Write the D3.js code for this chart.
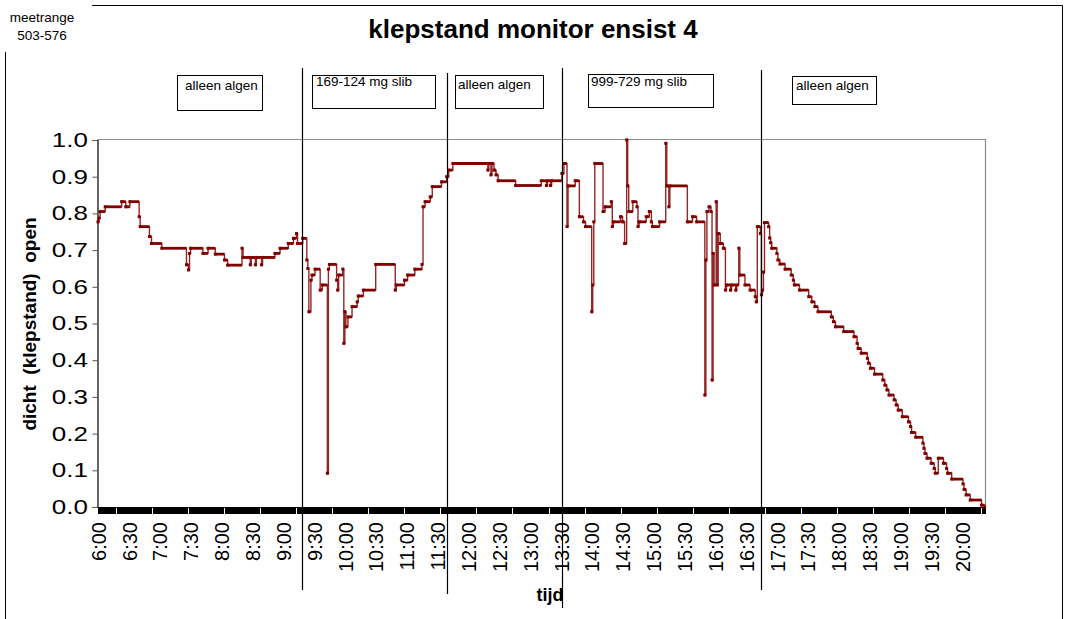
<!DOCTYPE html>
<html>
<head>
<meta charset="utf-8">
<script src="https://cdn.jsdelivr.net/npm/d3@7"></script>
<style>
  html, body { margin: 0; padding: 0; background: #fff; }
  svg { display: block; font-family: "Liberation Sans", Arial, sans-serif; }
</style>
</head>
<body>
<svg id="chart" width="1067" height="619"></svg>
<script>
// ---------------- data ----------------
const chartTitle = "klepstand monitor ensist 4";
const rangeLabel = ["meetrange", "503-576"];
const yAxisTitle = "dicht  (klepstand)  open";
const xAxisTitle = "tijd";
const yTicks = [0, 0.1, 0.2, 0.3, 0.4, 0.5, 0.6, 0.7, 0.8, 0.9, 1.0];
const xLabelTimes = ["6:00","6:30","7:00","7:30","8:00","8:30","9:00","9:30","10:00","10:30",
  "11:00","11:30","12:00","12:30","13:00","13:30","14:00","14:30","15:00","15:30","16:00",
  "16:30","17:00","17:30","18:00","18:30","19:00","19:30","20:00"];
const startTime = "6:00";
const endTime = "20:22";
const phaseBoundaries = ["9:18", "11:39", "13:31", "16:45"];
const phaseLabels = ["alleen algen", "169-124 mg slib", "alleen algen", "999-729 mg slib", "alleen algen"];

// valve position (step changes): time of change and new value
const klepTimes = ["6:00","6:01","6:02","6:07","6:23","6:27","6:31","6:40","6:41","6:50","6:52","7:02",
  "7:26","7:28","7:29","7:30","7:42","7:47","7:54","8:03","8:06","8:20","8:21","8:28","8:29","8:33",
  "8:34","8:39","8:40","8:52","8:57","9:05","9:10","9:13","9:14","9:19","9:23","9:24","9:25","9:27",
  "9:28","9:31","9:36","9:38","9:43","9:44","9:45","9:52","9:53","9:54","9:58","9:59","10:00","10:01",
  "10:03","10:07","10:12","10:13","10:18","10:30","10:49","10:50","10:58","11:01","11:08","11:15",
  "11:16","11:18","11:23","11:25","11:34","11:39","11:41","11:45","12:19","12:20","12:22","12:23",
  "12:25","12:27","12:29","12:46","13:11","13:16","13:17","13:20","13:21","13:31","13:33","13:36",
  "13:37","13:44","13:48","13:52","13:54","14:00","14:01","14:02","14:03","14:11","14:13","14:19",
  "14:20","14:21","14:28","14:30","14:32","14:34","14:35","14:36","14:40","14:44","14:45","14:46",
  "14:53","14:56","14:58","14:59","15:06","15:12","15:13","15:15","15:16","15:33","15:38","15:42",
  "15:50","15:51","15:52","15:54","15:56","15:57","15:58","15:59","16:01","16:02","16:03","16:05",
  "16:08","16:10","16:11","16:15","16:16","16:20","16:21","16:23","16:24","16:29","16:34","16:39",
  "16:40","16:41","16:44","16:45","16:46","16:47","16:48","16:52","16:53","16:54","16:55","17:00",
  "17:01","17:03","17:08","17:14","17:16","17:17","17:22","17:31","17:34","17:37","17:40","17:53",
  "17:55","17:57","18:05","18:15","18:18","18:19","18:22","18:28","18:29","18:31","18:35","18:43",
  "18:45","18:47","18:49","18:54","18:56","18:58","19:02","19:08","19:10","19:11","19:15","19:22",
  "19:23","19:24","19:26","19:30","19:33","19:34","19:37","19:42","19:45","19:46","19:50","20:01",
  "20:02","20:04","20:08","20:19","20:22"];
const klepValues = [0.777,0.787,0.805,0.818,0.832,0.818,0.832,0.791,0.764,0.737,0.718,0.705,
  0.660,0.646,0.691,0.705,0.691,0.705,0.689,0.673,0.659,0.705,0.680,0.660,0.680,0.660,
  0.680,0.660,0.680,0.691,0.705,0.718,0.732,0.745,0.718,0.732,0.673,0.650,0.532,0.618,
  0.632,0.648,0.591,0.605,0.092,0.648,0.661,0.618,0.591,0.632,0.648,0.446,0.532,0.491,
  0.518,0.546,0.559,0.575,0.591,0.661,0.591,0.605,0.618,0.632,0.648,0.661,
  0.818,0.832,0.845,0.873,0.886,0.900,0.918,0.936,0.918,0.936,0.905,0.936,
  0.918,0.905,0.889,0.876,0.889,0.876,0.889,0.876,0.889,0.909,0.936,0.764,
  0.875,0.889,0.791,0.777,0.764,0.532,0.605,0.777,0.936,0.805,0.818,0.832,
  0.764,0.777,0.791,0.777,0.718,1.000,0.875,0.805,0.832,0.818,0.764,0.777,
  0.791,0.805,0.777,0.764,0.777,0.991,0.875,0.818,0.875,0.777,0.791,0.777,
  0.305,0.673,0.805,0.818,0.805,0.346,0.691,0.605,0.832,0.605,0.745,0.718,
  0.705,0.591,0.605,0.591,0.605,0.591,0.605,0.705,0.632,0.605,0.591,0.573,
  0.559,0.764,0.745,0.578,0.591,0.640,0.775,0.764,0.733,0.720,0.705,0.691,
  0.673,0.662,0.648,0.632,0.618,0.605,0.591,0.573,0.559,0.546,0.532,0.518,
  0.505,0.491,0.478,0.464,0.446,0.432,0.419,0.405,0.392,0.378,0.362,0.346,
  0.332,0.319,0.305,0.292,0.278,0.264,0.246,0.232,0.219,0.203,0.190,0.174,
  0.160,0.146,0.133,0.119,0.105,0.092,0.133,0.119,0.105,0.092,0.076,0.063,
  0.048,0.033,0.019,0.005,0.000];

// ---------------- helpers & layout ----------------
const toMin = s => { const [h, m] = s.split(":").map(Number); return h * 60 + m; };
const t0 = toMin(startTime), t1 = toMin(endTime);
const data = klepTimes.map((t, i) => ({ t: toMin(t) - t0, v: klepValues[i] }));

const svg = d3.select("#chart");
const FONT = '"Liberation Sans", Arial, sans-serif';
const red = "#800000";

const plot = { left: 97.5, right: 985, top: 140, bottom: 507 };
const x = d3.scaleLinear().domain([0, t1 - t0]).range([98, 984.6]);
const y = d3.scaleLinear().domain([0, 1]).range([plot.bottom, plot.top]);

// outer chart border (partly hidden by the range label box)
svg.append("path")
  .attr("d", "M5.5,619 L5.5,5.5 L1062.5,5.5 L1062.5,619")
  .attr("fill", "none").attr("stroke", "#000").attr("stroke-width", 1);
svg.append("rect").attr("x", 0).attr("y", 0).attr("width", 92).attr("height", 52).attr("fill", "#fff");
svg.append("text").attr("x", 42).attr("y", 22).attr("text-anchor", "middle")
  .attr("font-size", 13.5).attr("font-family", FONT).text(rangeLabel[0]);
svg.append("text").attr("x", 42).attr("y", 40).attr("text-anchor", "middle")
  .attr("font-size", 13.5).attr("font-family", FONT).text(rangeLabel[1]);

// title
svg.append("text").attr("x", 533).attr("y", 38).attr("text-anchor", "middle")
  .attr("font-size", 26).attr("font-weight", "bold").attr("font-family", FONT).text(chartTitle);

// plot frame (top & right grey)
svg.append("path")
  .attr("d", `M${plot.left},${plot.top - 0.5} L${plot.right + 0.5},${plot.top - 0.5} L${plot.right + 0.5},${plot.bottom}`)
  .attr("fill", "none").attr("stroke", "#8c8c8c").attr("stroke-width", 1.2);

// y axis
const ySX = 1.3;
const yAxis = svg.append("g").attr("transform", `translate(${plot.left},0)`)
  .call(d3.axisLeft(y).tickValues(yTicks).tickSize(5).tickPadding(5).tickFormat(d3.format(".1f")));
yAxis.select(".domain").attr("stroke", "#000").attr("stroke-width", 1.2);
yAxis.selectAll(".tick line").attr("stroke", "#555");
yAxis.selectAll("text").attr("font-size", 20).attr("font-family", FONT).attr("fill", "#000")
  .attr("x", -9.5 / ySX).attr("transform", `scale(${ySX},1)`);

// x axis: dense minute tick marks
const minuteTicks = d3.range(0, t1 - t0 + 1, 1);
const xAxis = svg.append("g").attr("transform", `translate(0,${plot.bottom})`)
  .call(d3.axisBottom(x).tickValues(minuteTicks).tickSize(7).tickSizeOuter(0).tickFormat(""));
xAxis.select(".domain").attr("stroke", "#000").attr("stroke-width", 1.2);
xAxis.selectAll(".tick line").attr("stroke", "#000").attr("stroke-width", 1)
  .attr("shape-rendering", "crispEdges");

// x labels (rotated)
const labelAxis = svg.append("g").attr("transform", `translate(0,${plot.bottom})`)
  .call(d3.axisBottom(x).tickValues(xLabelTimes.map(s => toMin(s) - t0)).tickSize(0)
    .tickFormat((d, i) => xLabelTimes[i]));
labelAxis.select(".domain").remove();
labelAxis.selectAll("text")
  .attr("font-size", 20).attr("font-family", FONT).attr("fill", "#000")
  .attr("text-anchor", "end")
  .attr("transform", "translate(0,15) rotate(-90)")
  .attr("x", 0).attr("y", 0).attr("dy", "0.36em");

// axis titles
svg.append("text")
  .attr("transform", "translate(36,324) rotate(-90)")
  .attr("text-anchor", "middle").attr("font-size", 19).attr("font-weight", "bold")
  .attr("font-family", FONT).style("white-space", "pre").text(yAxisTitle);
svg.append("text").attr("x", 550).attr("y", 601).attr("text-anchor", "middle")
  .attr("font-size", 18).attr("font-weight", "bold").attr("font-family", FONT).text(xAxisTitle);

// data line
const line = d3.line().x(d => x(d.t)).y(d => y(d.v)).curve(d3.curveStepAfter);
svg.append("path").datum(data).attr("d", line)
  .attr("fill", "none").attr("stroke", red).attr("stroke-width", 1.4).attr("stroke-opacity", 0.85);
const segs = data.slice(0, -1).map((d, i) => ({ a: d.t, b: data[i + 1].t, v: d.v }));
svg.append("g").selectAll("line").data(segs).join("line")
  .attr("x1", d => x(d.a)).attr("x2", d => x(d.b))
  .attr("y1", d => y(d.v)).attr("y2", d => y(d.v))
  .attr("stroke", red).attr("stroke-width", 2.8);
svg.append("g").selectAll("rect").data(data).join("rect")
  .attr("x", d => x(d.t) - 1.5).attr("y", d => y(d.v) - 1.5)
  .attr("width", 3).attr("height", 3).attr("fill", red);

// phase boundary lines
const lineExtents = [[68, 590], [73, 594], [68, 608], [70, 590]];
svg.append("g").selectAll("line").data(phaseBoundaries).join("line")
  .attr("x1", d => Math.round(x(toMin(d) - t0)) + 0.5).attr("x2", d => Math.round(x(toMin(d) - t0)) + 0.5)
  .attr("y1", (d, i) => lineExtents[i][0]).attr("y2", (d, i) => lineExtents[i][1])
  .attr("stroke", "#000").attr("stroke-width", 1.2);

// phase label boxes
const boxes = [
  { x: 177, y: 75, w: 85, h: 35, tx: 185, ty: 90 },
  { x: 312, y: 75, w: 123, h: 33, tx: 316, ty: 86 },
  { x: 455, y: 75, w: 88, h: 33, tx: 458, ty: 89 },
  { x: 588, y: 74, w: 125, h: 33, tx: 591, ty: 86 },
  { x: 792, y: 76, w: 84, h: 28, tx: 796, ty: 90 }
];
const bg = svg.append("g").selectAll("g").data(phaseLabels).join("g");
bg.append("rect").attr("x", (d, i) => boxes[i].x + 0.5).attr("y", (d, i) => boxes[i].y + 0.5)
  .attr("width", (d, i) => boxes[i].w).attr("height", (d, i) => boxes[i].h)
  .attr("fill", "#fff").attr("stroke", "#000").attr("stroke-width", 1);
bg.append("text").attr("x", (d, i) => boxes[i].tx).attr("y", (d, i) => boxes[i].ty)
  .attr("font-size", 13.5).attr("font-family", FONT).text(d => d);
</script>
</body>
</html>
